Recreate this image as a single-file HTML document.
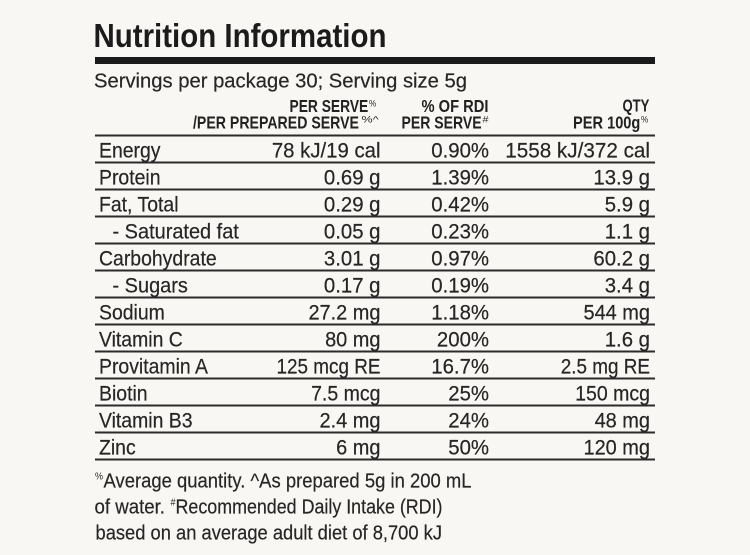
<!DOCTYPE html>
<html>
<head>
<meta charset="utf-8">
<style>
  html,body{margin:0;padding:0;background:#f9f7f3;}
  svg{display:block;}
  text{font-family:"Liberation Sans",Arial,sans-serif;}
  .t{font-size:33px;font-weight:bold;fill:#1b1b1b;}
  .s{font-size:20.5px;fill:#262626;stroke:#262626;stroke-width:0.2;}
  .h{font-size:18px;font-weight:bold;fill:#222;}
  .sup{font-size:9px;fill:#262626;}
  .b{font-size:21px;fill:#262626;stroke:#262626;stroke-width:0.2;}
</style>
</head>
<body>
<svg width="750" height="555" viewBox="0 0 750 555" xmlns="http://www.w3.org/2000/svg">
  <rect x="0" y="0" width="750" height="555" fill="#f9f7f3"/>

  <!-- Title -->
  <text class="t" x="93.5" y="47" textLength="293" lengthAdjust="spacingAndGlyphs">Nutrition Information</text>
  <rect x="95" y="57" width="560" height="7" fill="#1a1a1a"/>

  <!-- Servings -->
  <text class="s" x="94" y="87.5" textLength="373" lengthAdjust="spacingAndGlyphs">Servings per package 30; Serving size 5g</text>

  <!-- Header -->
  <text class="h" transform="translate(289.5,112) scale(0.767,1)">PER SERVE</text>
  <text class="sup" transform="translate(369,106.5) scale(0.9,1)">%</text>
  <text class="h" transform="translate(193,128.5) scale(0.786,1)">/PER PREPARED SERVE</text>
  <text class="sup" transform="translate(361.5,122.5) scale(1.4,1)">%^</text>

  <text class="h" transform="translate(421.5,112) scale(0.817,1)">% OF RDI</text>
  <text class="h" transform="translate(401.5,128.5) scale(0.781,1)">PER SERVE</text>
  <text class="sup" transform="translate(482.5,122.5) scale(1.2,1)">#</text>

  <text class="h" transform="translate(622.5,111.5) scale(0.727,1)">QTY</text>
  <text class="h" transform="translate(573,128.5) scale(0.812,1)">PER 100g</text>
  <text class="sup" transform="translate(641,122.5) scale(0.9,1)">%</text>

  <!-- Rules -->
  <g fill="#2b2b2b">
    <rect x="95" y="134.5" width="560" height="2"/>
    <rect x="95" y="161.5" width="560" height="2"/>
    <rect x="95" y="188.5" width="560" height="2"/>
    <rect x="95" y="215.5" width="560" height="2"/>
    <rect x="95" y="242.5" width="560" height="2"/>
    <rect x="95" y="269.5" width="560" height="2"/>
    <rect x="95" y="296.5" width="560" height="2"/>
    <rect x="95" y="323.5" width="560" height="2"/>
    <rect x="95" y="350.5" width="560" height="2"/>
    <rect x="95" y="377.5" width="560" height="2"/>
    <rect x="95" y="404.5" width="560" height="2"/>
    <rect x="95" y="431.5" width="560" height="2"/>
    <rect x="95" y="458.5" width="560" height="2"/>
  </g>

  <!-- Labels -->
  <g class="b">
    <text transform="translate(99,157.5) scale(0.925,1)">Energy</text>
    <text transform="translate(99,184.5) scale(0.925,1)">Protein</text>
    <text transform="translate(99,211.5) scale(0.925,1)">Fat, Total</text>
    <text transform="translate(112.5,238.5) scale(0.95,1)">- Saturated fat</text>
    <text transform="translate(99,265.5) scale(0.925,1)">Carbohydrate</text>
    <text transform="translate(112.5,292.5) scale(0.95,1)">- Sugars</text>
    <text transform="translate(99,319.5) scale(0.925,1)">Sodium</text>
    <text transform="translate(99,346.5) scale(0.925,1)">Vitamin C</text>
    <text transform="translate(99,373.5) scale(0.925,1)">Provitamin A</text>
    <text transform="translate(99,400.5) scale(0.925,1)">Biotin</text>
    <text transform="translate(99,427.5) scale(0.925,1)">Vitamin B3</text>
    <text transform="translate(99,454.5) scale(0.925,1)">Zinc</text>
  </g>

  <!-- Column 1 -->
  <g class="b" text-anchor="end">
    <text transform="translate(380.5,157.5) scale(0.97,1)">78 kJ/19 cal</text>
    <text transform="translate(380.5,184.5) scale(0.97,1)">0.69 g</text>
    <text transform="translate(380.5,211.5) scale(0.97,1)">0.29 g</text>
    <text transform="translate(380.5,238.5) scale(0.97,1)">0.05 g</text>
    <text transform="translate(380.5,265.5) scale(0.97,1)">3.01 g</text>
    <text transform="translate(380.5,292.5) scale(0.97,1)">0.17 g</text>
    <text transform="translate(380.5,319.5) scale(0.95,1)">27.2 mg</text>
    <text transform="translate(380.5,346.5) scale(0.95,1)">80 mg</text>
    <text transform="translate(380.5,373.5) scale(0.9,1)">125 mcg RE</text>
    <text transform="translate(380.5,400.5) scale(0.93,1)">7.5 mcg</text>
    <text transform="translate(380.5,427.5) scale(0.95,1)">2.4 mg</text>
    <text transform="translate(380.5,454.5) scale(0.95,1)">6 mg</text>
  </g>

  <!-- Column 2 -->
  <g class="b" text-anchor="end">
    <text transform="translate(489,157.5) scale(0.97,1)">0.90%</text>
    <text transform="translate(489,184.5) scale(0.97,1)">1.39%</text>
    <text transform="translate(489,211.5) scale(0.97,1)">0.42%</text>
    <text transform="translate(489,238.5) scale(0.97,1)">0.23%</text>
    <text transform="translate(489,265.5) scale(0.97,1)">0.97%</text>
    <text transform="translate(489,292.5) scale(0.97,1)">0.19%</text>
    <text transform="translate(489,319.5) scale(0.97,1)">1.18%</text>
    <text transform="translate(489,346.5) scale(0.97,1)">200%</text>
    <text transform="translate(489,373.5) scale(0.97,1)">16.7%</text>
    <text transform="translate(489,400.5) scale(0.97,1)">25%</text>
    <text transform="translate(489,427.5) scale(0.97,1)">24%</text>
    <text transform="translate(489,454.5) scale(0.97,1)">50%</text>
  </g>

  <!-- Column 3 -->
  <g class="b" text-anchor="end">
    <text transform="translate(650,157.5) scale(0.985,1)">1558 kJ/372 cal</text>
    <text transform="translate(650,184.5) scale(0.97,1)">13.9 g</text>
    <text transform="translate(650,211.5) scale(0.97,1)">5.9 g</text>
    <text transform="translate(650,238.5) scale(0.97,1)">1.1 g</text>
    <text transform="translate(650,265.5) scale(0.97,1)">60.2 g</text>
    <text transform="translate(650,292.5) scale(0.97,1)">3.4 g</text>
    <text transform="translate(650,319.5) scale(0.95,1)">544 mg</text>
    <text transform="translate(650,346.5) scale(0.97,1)">1.6 g</text>
    <text transform="translate(650,373.5) scale(0.9,1)">2.5 mg RE</text>
    <text transform="translate(650,400.5) scale(0.93,1)">150 mcg</text>
    <text transform="translate(650,427.5) scale(0.95,1)">48 mg</text>
    <text transform="translate(650,454.5) scale(0.95,1)">120 mg</text>
  </g>

  <!-- Footer -->
  <text class="sup" style="font-size:10px;fill:#262626" transform="translate(95,479.5) scale(0.9,1)">%</text>
  <text class="s" x="103.5" y="487.5" textLength="368" lengthAdjust="spacingAndGlyphs">Average quantity. ^As prepared 5g in 200 mL</text>

  <text class="s" x="94.5" y="513.5" textLength="70.5" lengthAdjust="spacingAndGlyphs">of water.</text>
  <text class="sup" style="font-size:10px;fill:#262626" transform="translate(170.5,505.5) scale(0.9,1)">#</text>
  <text class="s" x="175.5" y="513.5" textLength="267" lengthAdjust="spacingAndGlyphs">Recommended Daily Intake (RDI)</text>

  <text class="s" x="95.5" y="539.5" textLength="346.5" lengthAdjust="spacingAndGlyphs">based on an average adult diet of 8,700 kJ</text>
</svg>
</body>
</html>
